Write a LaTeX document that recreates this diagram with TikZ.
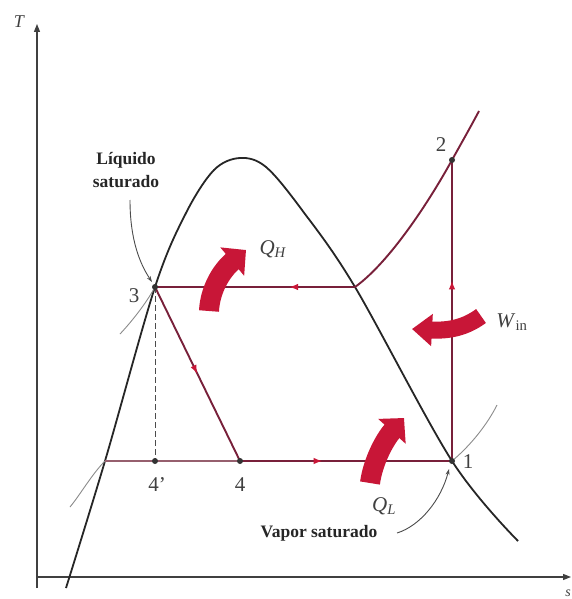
\documentclass[tikz,border=0pt]{standalone}
\usepackage{fontspec}
\setmainfont{Liberation Serif}
\usetikzlibrary{arrows.meta,decorations.markings}
\definecolor{cyc}{RGB}{120,32,58}
\definecolor{redarr}{RGB}{200,22,55}
\definecolor{thinline}{gray}{0.55}
\definecolor{thinred}{RGB}{150,95,110}
\begin{document}
\begin{tikzpicture}[x=1pt,y=-1pt,
  axisline/.style={draw=black!75, line width=1.2pt},
  domeline/.style={draw=black!85, line width=1.8pt},
  cycline/.style={draw=cyc, line width=1.9pt},
  thincurve/.style={draw=thinline, line width=0.9pt},
  midarrow/.style={postaction={decorate}, decoration={markings,
      mark=at position #1 with {\arrow[color=redarr]{Latex[length=9pt,width=6.5pt]}}}},
  bigarrow/.style={draw=redarr, line width=#1},
  statedot/.style={circle, fill=black!80, inner sep=0pt, minimum size=6pt},
  numlbl/.style={font=\fontsize{21}{24}\selectfont, text=black!75},
  symlbl/.style={font=\fontsize{21}{24}\selectfont, text=black!75},
  calllbl/.style={font=\fontsize{17.5}{24}\selectfont\bfseries, text=black!85, align=center}
]
\fill[white] (0,0) rectangle (571,599);
\useasboundingbox (0,0) rectangle (571,599);

% axes
\coordinate (origin) at (37,577);
\coordinate (ytip) at (37,24);
\coordinate (xtip) at (571,577);
\draw[axisline, -{Triangle[length=8pt,width=6pt]}] (37,588) -- (ytip);
\draw[axisline, -{Triangle[length=8pt,width=6pt]}] (origin) -- (xtip);
\node[symlbl, font=\fontsize{18}{20}\selectfont\itshape] (tlbl) at (19,22) {T};
\node[symlbl, font=\fontsize{14}{16}\selectfont\itshape] (slbl) at (568,593) {s};

% state points
\coordinate (s1) at (452,461);
\coordinate (s2) at (452,160);
\coordinate (s3) at (155,287);
\coordinate (s4) at (240,461);
\coordinate (s4p) at (155,461);
\coordinate (sg) at (355,287);
\coordinate (sf) at (105,461);

% saturation dome
\draw[domeline] plot[smooth, tension=0.55] coordinates
  {(66,588) (105,461) (155,287) (186,213) (214,170) (240,158) (266,167) (302,210) (355,287) (452,461) (518,541)};

% superheated high-pressure line
\draw[cycline] (sg) .. controls (390,262) and (430,200) .. (s2)
  .. controls (462,142) and (470,128) .. (479,111);

% thin constant pressure lines
\draw[thincurve] (120,334) .. controls (135,318) and (148,300) .. (s3);
\draw[thincurve] (sf) .. controls (92,474) and (80,495) .. (70,507);
\draw[thincurve] (s1) .. controls (470,446) and (487,425) .. (497,405);

% callout arrows
\draw[thincurve, draw=black!70, -{Stealth[length=6pt,width=4pt]}] (130,200) .. controls (130,240) and (140,264) .. (152,282);
\draw[thincurve, draw=black!70, -{Stealth[length=6pt,width=4pt]}] (397,533) .. controls (420,526) and (441,500) .. (449,469);

% cycle
\draw[cycline, midarrow=0.33] (sg) -- (s3);
\draw[cycline, midarrow=0.5] (s3) -- (s4);
\draw[cycline, midarrow=0.39] (s4) -- (s1);
\draw[cycline, midarrow=0.6] (s1) -- (s2);
\draw[draw=thinred, line width=1.1pt] (sf) -- (s4);
\draw[draw=black!70, line width=1pt, dashed, dash pattern=on 6pt off 3pt] (s3) -- (s4p);

% dots
\node[statedot] (d1) at (s1) {};
\node[statedot] (d2) at (s2) {};
\node[statedot] (d3) at (s3) {};
\node[statedot] (d4) at (s4) {};
\node[statedot] (d4p) at (s4p) {};

% heat/work arrows
\draw[bigarrow=20pt, -{Triangle[length=18pt,width=36pt]}] (209,311) .. controls (210,290) and (221,271) .. (246,250);
\draw[bigarrow=17pt, -{Triangle[length=20pt,width=31pt]}] (481,316) .. controls (466,327) and (450,331) .. (412,329);
\draw[bigarrow=20pt, -{Triangle[length=18pt,width=36pt]}] (370,483) .. controls (373,461) and (385,439) .. (404,418);

% labels
\node[numlbl] (l1) at (468,462) {1};
\node[numlbl] (l2) at (441,145) {2};
\node[numlbl] (l3) at (134,296) {3};
\node[numlbl] (l4p) at (157,485) {4'};
\node[numlbl] (l4) at (240,485) {4};
\node[symlbl] (qh) at (273,249) {\textit{Q}\textsubscript{\textit{H}}};
\node[symlbl] (win) at (512,322) {\textit{W}\textsubscript{in}};
\node[symlbl] (ql) at (384,506) {\textit{Q}\textsubscript{\textit{L}}};
\node[calllbl] (liq) at (126,170) {Líquido\\[-1pt]saturado};
\node[calllbl] (vap) at (319,533) {Vapor saturado};
\end{tikzpicture}
\end{document}
